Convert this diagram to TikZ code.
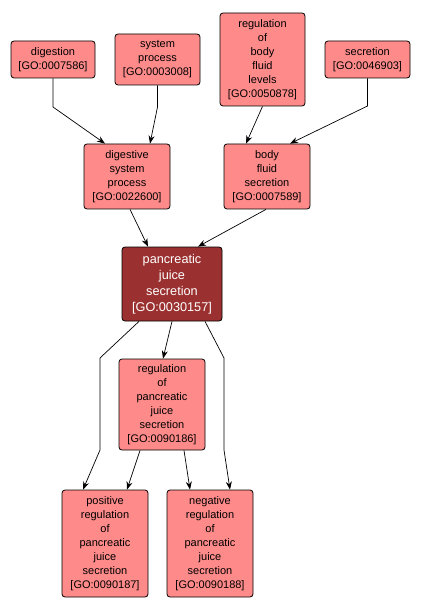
\documentclass[tikz,border=0pt]{standalone}
\usepackage{fontspec}
\setmainfont{Liberation Sans}
\usetikzlibrary{arrows.meta,calc}
\definecolor{gofill}{RGB}{255,138,138}
\definecolor{gomain}{RGB}{155,48,48}
\begin{document}
\begin{tikzpicture}[x=1pt,y=-1pt,
  goterm/.style={draw=black,line width=0.8pt,fill=gofill,rounded corners=3pt,
    inner sep=0pt,align=center,font=\fontsize{11}{14}\selectfont},
  gomainterm/.style={goterm,fill=gomain,text=white,font=\fontsize{12.7}{16}\selectfont},
  link/.style={draw=black,line width=0.7pt,-{Stealth[length=8pt,width=6pt]}}]
\useasboundingbox[fill=white] (0,0) rectangle (421,612);
\node[goterm,minimum width=84pt,minimum height=37pt] (dig) at (53,59.5) {digestion\\{}[GO:0007586]};
\node[goterm,minimum width=85pt,minimum height=51pt] (sp) at (157.5,59.5) {system\\process\\{}[GO:0003008]};
\node[goterm,minimum width=85pt,minimum height=93pt] (rbfl) at (262.5,59.5) {regulation\\of\\body\\fluid\\levels\\{}[GO:0050878]};
\node[goterm,minimum width=85pt,minimum height=37pt] (sec) at (367.5,59.5) {secretion\\{}[GO:0046903]};
\node[goterm,minimum width=86pt,minimum height=65pt] (dsp) at (127,176.5) {digestive\\system\\process\\{}[GO:0022600]};
\node[goterm,minimum width=86pt,minimum height=65pt] (bfs) at (267,176.5) {body\\fluid\\secretion\\{}[GO:0007589]};
\node[gomainterm,minimum width=100pt,minimum height=74pt] (pjs) at (172,284) {pancreatic\\juice\\secretion\\{}[GO:0030157]};
\node[goterm,minimum width=86pt,minimum height=91pt] (reg) at (162,404.5) {regulation\\of\\pancreatic\\juice\\secretion\\{}[GO:0090186]};
\node[goterm,minimum width=86pt,minimum height=107pt] (pos) at (105,543.5) {positive\\regulation\\of\\pancreatic\\juice\\secretion\\{}[GO:0090187]};
\node[goterm,minimum width=86pt,minimum height=107pt] (neg) at (210,543.5) {negative\\regulation\\of\\pancreatic\\juice\\secretion\\{}[GO:0090188]};
\draw[link] (dig.south) -- (53,107) -- ([xshift=-22pt]dsp.north);
\draw[link] (sp.south) -- (157.5,107) -- ([xshift=23pt]dsp.north);
\draw[link] (rbfl.south) -- ([xshift=-21pt]bfs.north);
\draw[link] (sec.south) -- (367.5,106) -- ([xshift=23pt]bfs.north);
\draw[link] ([xshift=3pt]dsp.south) -- ([xshift=-24pt]pjs.north);
\draw[link] ([xshift=-1pt]bfs.south) -- ([xshift=26pt]pjs.north);
\draw[link] ([xshift=-33pt]pjs.south) -- (100,358) -- (100,450) -- ([xshift=-22pt]pos.north);
\draw[link] (pjs.south) -- ([xshift=1pt]reg.north);
\draw[link] ([xshift=33pt]pjs.south) -- (224,358) -- (224,450) -- ([xshift=20pt]neg.north);
\draw[link] ([xshift=-22pt]reg.south) -- ([xshift=22pt]pos.north);
\draw[link] ([xshift=22pt]reg.south) -- ([xshift=-20pt]neg.north);
\end{tikzpicture}
\end{document}
